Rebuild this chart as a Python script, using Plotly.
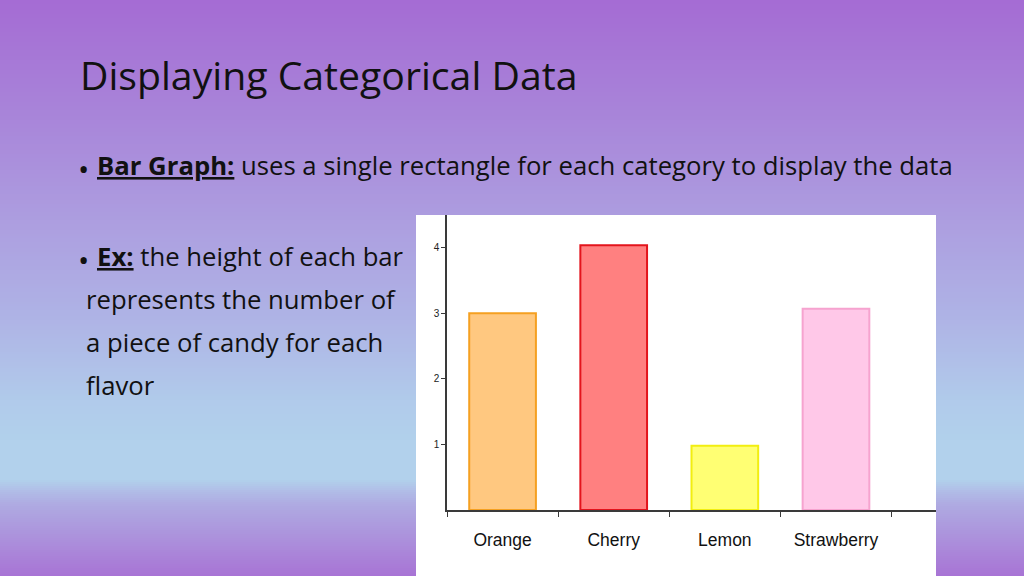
import plotly.graph_objects as go
import numpy as np

# ---- data ----
categories = ["Orange", "Cherry", "Lemon", "Strawberry"]
counts = [3.0, 4.04, 0.98, 3.07]
fill_colors = ["#FFC880", "#FF8080", "#FFFF73", "#FFC8E8"]
line_colors = ["#F5A021", "#E3141C", "#F2EE10", "#F6A3CF"]
y_ticks = [1, 2, 3, 4]

title_text = "Displaying Categorical Data"
bullet1_head = "Bar Graph:"
bullet1_rest = " uses a single rectangle for each category to display the data"
bullet2_head = "Ex:"
bullet2_lines = [" the height of each bar", "represents the number of",
                 "a piece of candy for each", "flavor"]

W, H = 1024, 576


def px(x):
    return x / W


def py(y):
    return 1 - y / H


fig = go.Figure()
fig.add_trace(go.Bar(
    x=categories, y=counts, width=0.6,
    marker=dict(color=fill_colors, line=dict(color=line_colors, width=2)),
    showlegend=False, hoverinfo="x+y",
))

# ---- slide background gradient (styling) ----
stops_y = [0, 120, 220, 320, 400, 440, 480, 492, 505, 540, 576]
stops_c = ["#A56CD4", "#A986DA", "#AD9EE0", "#AFB4E6", "#B1CBEB", "#B2D1EC",
           "#B2D1EC", "#B1BCE7", "#AFAAE2", "#AC90DC", "#A874D5"]


def hex2rgb(h):
    h = h.lstrip("#")
    return [int(h[i:i + 2], 16) for i in (0, 2, 4)]


rgbs = np.array([hex2rgb(c) for c in stops_c], dtype=float)
shapes = []
step = 2
for y0 in range(0, H, step):
    yc = y0 + step / 2
    r = np.interp(yc, stops_y, rgbs[:, 0])
    g = np.interp(yc, stops_y, rgbs[:, 1])
    b = np.interp(yc, stops_y, rgbs[:, 2])
    shapes.append(dict(type="rect", xref="paper", yref="paper", layer="below",
                       x0=0, x1=1, y0=py(min(y0 + step + 0.6, H)), y1=py(y0),
                       fillcolor=f"rgb({int(r)},{int(g)},{int(b)})",
                       line=dict(width=0)))
# white chart panel
shapes.append(dict(type="rect", xref="paper", yref="paper", layer="below",
                   x0=px(416), x1=px(936), y0=0, y1=py(215),
                   fillcolor="white", line=dict(width=0)))

TXT = "#111111"
FONT = "Open Sans"
BODY = 25.7
annotations = [
    dict(text=title_text, x=px(78), y=py(74), font=dict(family=FONT, size=39.2, color=TXT)),
    dict(text="•", x=px(76), y=py(168), font=dict(family=FONT, size=30, color=TXT)),
    dict(text=f"<b><u>{bullet1_head}</u></b>{bullet1_rest}", x=px(95), y=py(165.5),
         font=dict(family=FONT, size=BODY, color=TXT)),
    dict(text="•", x=px(76), y=py(259), font=dict(family=FONT, size=30, color=TXT)),
    dict(text=f"<b><u>{bullet2_head}</u></b>{bullet2_lines[0]}", x=px(95), y=py(256.5),
         font=dict(family=FONT, size=BODY, color=TXT)),
]
for i, line in enumerate(bullet2_lines[1:]):
    annotations.append(dict(text=line, x=px(84), y=py(299.5 + 43 * i),
                            font=dict(family=FONT, size=BODY, color=TXT)))
for a in annotations:
    a.update(xref="paper", yref="paper", xanchor="left", yanchor="middle",
             showarrow=False)

AX = "#3A3A3A"
fig.update_layout(
    width=W, height=H,
    margin=dict(l=0, r=0, t=0, b=0),
    paper_bgcolor="#A56CD4",
    plot_bgcolor="rgba(0,0,0,0)",
    shapes=shapes,
    annotations=annotations,
    bargap=0.4,
    xaxis=dict(
        domain=[px(447), px(936)],
        type="category", range=[-0.5, 3.9],
        tickson="boundaries", ticks="outside", ticklen=5, tickwidth=1,
        tickcolor=AX, showline=True, linecolor=AX, linewidth=1.5,
        showgrid=False, zeroline=False,
        tickfont=dict(family="Liberation Sans, Arial", size=17.5, color="#111"),
        ticklabelstandoff=13, fixedrange=True,
    ),
    yaxis=dict(
        domain=[py(510), py(215)],
        range=[0, 4.5], tickvals=y_ticks, ticks="outside", ticklen=4,
        tickwidth=1, tickcolor=AX, showline=True, linecolor=AX, linewidth=1.5,
        showgrid=False, zeroline=False,
        tickfont=dict(family="Liberation Sans, Arial", size=10, color="#222"),
        fixedrange=True,
    ),
)

fig.write_html(
    "out.html",
    config={"displayModeBar": False},
    post_script="document.body.style.margin='0';document.body.style.overflow='hidden';",
)
